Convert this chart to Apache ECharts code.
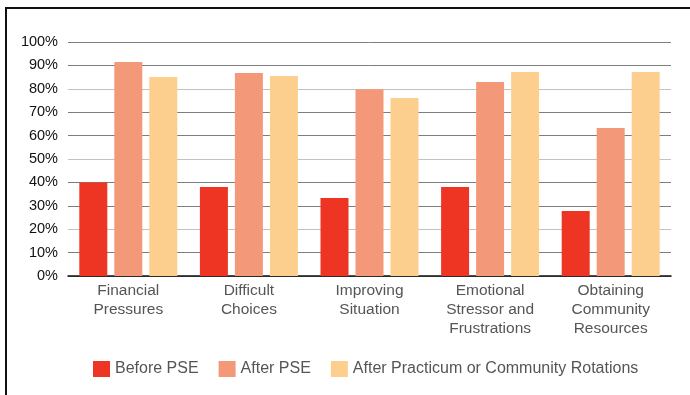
<!DOCTYPE html>
<html>
<head>
<meta charset="utf-8">
<script src="https://cdn.jsdelivr.net/npm/echarts@6/dist/echarts.min.js"></script>
<style>
  html, body { margin: 0; padding: 0; background: #fff; }
  #chart { width: 690px; height: 395px; }
  #frame {
    position: absolute; left: 5px; top: 7px; width: 690px; height: 386px;
    border-left: 2px solid #111; border-top: 2px solid #111; border-bottom: 1px solid #9a9a9a;
    pointer-events: none;
  }
</style>
</head>
<body>
<div id="chart"></div>
<div id="frame"></div>
<script>
const categories = [
  'Financial\nPressures',
  'Difficult\nChoices',
  'Improving\nSituation',
  'Emotional\nStressor and\nFrustrations',
  'Obtaining\nCommunity\nResources'
];
const beforePSE = [40, 38, 33.3, 38, 27.8];
const afterPSE = [91.5, 86.8, 79.8, 82.9, 63.2];
const afterPracticum = [85, 85.5, 76.1, 87.2, 87.2];
const seriesNames = ['Before PSE', 'After PSE', 'After Practicum or Community Rotations'];
const colors = ['#EE3524', '#F4987A', '#FDCF8E'];

const font = 'Liberation Sans, Arial, Helvetica, sans-serif';
const chart = echarts.init(document.getElementById('chart'));

const makeSeries = (name, data) => ({
  name: name,
  type: 'bar',
  data: data,
  barWidth: 28,
  barGap: '25%',
  silent: true
});

chart.setOption({
  animation: false,
  color: colors,
  textStyle: { fontFamily: font },
  grid: { left: 68, right: 19, top: 42, bottom: 119 },
  legend: {
    left: 88,
    top: 356,
    icon: 'rect',
    itemWidth: 17,
    itemHeight: 16,
    itemGap: 20,
    textStyle: { fontFamily: font, fontSize: 16, color: '#555' },
    data: seriesNames
  },
  xAxis: {
    type: 'category',
    data: categories,
    axisLine: { lineStyle: { color: '#111', width: 1.5 } },
    axisTick: { show: false },
    axisLabel: {
      interval: 0,
      margin: 5,
      fontFamily: font,
      fontSize: 15.5,
      lineHeight: 19,
      color: '#555'
    }
  },
  yAxis: {
    type: 'value',
    min: 0,
    max: 100,
    interval: 10,
    axisLine: { show: false },
    axisTick: { show: false },
    axisLabel: {
      formatter: '{value}%',
      margin: 10,
      fontFamily: font,
      fontSize: 14.5,
      color: '#111'
    },
    splitLine: { lineStyle: { color: ['#7d7d7d', '#7d7d7d', '#c2c2c2'], width: 1 } }
  },
  series: [
    makeSeries(seriesNames[0], beforePSE),
    makeSeries(seriesNames[1], afterPSE),
    makeSeries(seriesNames[2], afterPracticum)
  ]
});
</script>
</body>
</html>
